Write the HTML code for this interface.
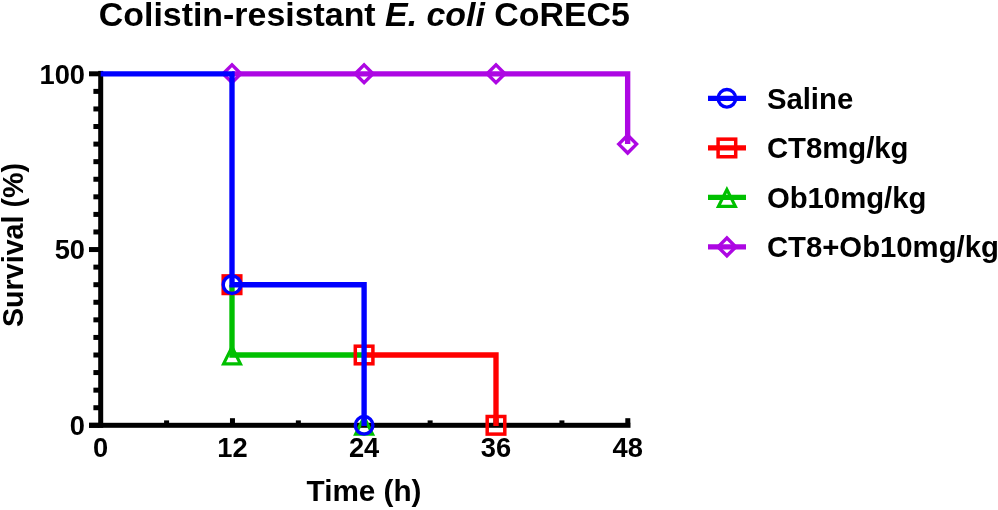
<!DOCTYPE html>
<html lang="en"><head><meta charset="utf-8"><title>Colistin-resistant E. coli CoREC5</title>
<style>
html,body{margin:0;padding:0;background:#fff;}
body{width:998px;height:510px;overflow:hidden;}
svg{display:block;}
text{font-family:"Liberation Sans",Arial,Helvetica,sans-serif;font-weight:bold;fill:#000;}
.t{font-size:33.9px;}
.ax{font-size:29.3px;}
.tk{font-size:27.3px;}
.lg{font-size:29.3px;}
</style></head><body>
<svg width="998" height="510" viewBox="0 0 998 510">
<rect width="998" height="510" fill="#fff"/>

<text class="t" x="98.8" y="26.4">Colistin-resistant <tspan font-style="italic">E. coli</tspan> CoREC5</text>
<g><rect x="98.2" y="70.9" width="5" height="356.9" fill="#000"/><rect x="89" y="422.8" width="541.5" height="5" fill="#000"/><rect x="89" y="422.80" width="10" height="5" fill="#000"/><rect x="93.4" y="405.23" width="6" height="5" fill="#000"/><rect x="93.4" y="387.65" width="6" height="5" fill="#000"/><rect x="93.4" y="370.07" width="6" height="5" fill="#000"/><rect x="93.4" y="352.50" width="6" height="5" fill="#000"/><rect x="93.4" y="334.93" width="6" height="5" fill="#000"/><rect x="93.4" y="317.35" width="6" height="5" fill="#000"/><rect x="93.4" y="299.77" width="6" height="5" fill="#000"/><rect x="93.4" y="282.20" width="6" height="5" fill="#000"/><rect x="93.4" y="264.62" width="6" height="5" fill="#000"/><rect x="89" y="247.05" width="10" height="5" fill="#000"/><rect x="93.4" y="229.47" width="6" height="5" fill="#000"/><rect x="93.4" y="211.90" width="6" height="5" fill="#000"/><rect x="93.4" y="194.33" width="6" height="5" fill="#000"/><rect x="93.4" y="176.75" width="6" height="5" fill="#000"/><rect x="93.4" y="159.18" width="6" height="5" fill="#000"/><rect x="93.4" y="141.60" width="6" height="5" fill="#000"/><rect x="93.4" y="124.02" width="6" height="5" fill="#000"/><rect x="93.4" y="106.45" width="6" height="5" fill="#000"/><rect x="93.4" y="88.88" width="6" height="5" fill="#000"/><rect x="89" y="71.30" width="10" height="5" fill="#000"/><rect x="164.09" y="420.4" width="5" height="3" fill="#000"/><rect x="229.97" y="418.2" width="5" height="5" fill="#000"/><rect x="295.86" y="420.4" width="5" height="3" fill="#000"/><rect x="361.75" y="418.2" width="5" height="5" fill="#000"/><rect x="427.64" y="420.4" width="5" height="3" fill="#000"/><rect x="493.52" y="418.2" width="5" height="5" fill="#000"/><rect x="559.41" y="420.4" width="5" height="3" fill="#000"/><rect x="625.30" y="418.2" width="5" height="5" fill="#000"/></g>
<text class="tk" x="85.0" y="435.0" text-anchor="end">0</text>
<text class="tk" x="85.0" y="259.2" text-anchor="end">50</text>
<text class="tk" x="85.0" y="83.5" text-anchor="end">100</text>
<text class="tk" x="100.6" y="457.2" text-anchor="middle">0</text>
<text class="tk" x="232.4" y="457.2" text-anchor="middle">12</text>
<text class="tk" x="364.1" y="457.2" text-anchor="middle">24</text>
<text class="tk" x="495.9" y="457.2" text-anchor="middle">36</text>
<text class="tk" x="627.7" y="457.2" text-anchor="middle">48</text>
<text x="364" y="501" font-size="29.7" text-anchor="middle">Time (h)</text>
<text font-size="28.7" transform="translate(23.2,245) rotate(-90)" text-anchor="middle">Survival (%)</text>
<g>
<path d="M232.0 73.8 L627.65 73.8 L627.65 144.1" fill="none" stroke="#AD07E3" stroke-width="5.35" stroke-linejoin="miter" stroke-linecap="butt"/>
<path d="M223.10 73.80 L232.00 64.90 L240.90 73.80 L232.00 82.70 Z" fill="none" stroke="#AD07E3" stroke-width="3.4" stroke-linejoin="miter"/>
<path d="M355.20 73.80 L364.10 64.90 L373.00 73.80 L364.10 82.70 Z" fill="none" stroke="#AD07E3" stroke-width="3.4" stroke-linejoin="miter"/>
<path d="M487.10 73.80 L496.00 64.90 L504.90 73.80 L496.00 82.70 Z" fill="none" stroke="#AD07E3" stroke-width="3.4" stroke-linejoin="miter"/>
<path d="M618.75 144.10 L627.65 135.20 L636.55 144.10 L627.65 153.00 Z" fill="none" stroke="#AD07E3" stroke-width="3.4" stroke-linejoin="miter"/>
<path d="M232.0 284.7 L232.0 355.0 L364.1 355.0" fill="none" stroke="#00C000" stroke-width="5.35" stroke-linejoin="miter" stroke-linecap="butt"/>
<path d="M223.57 363.85 L240.43 363.85 L232.00 347.08 Z" fill="none" stroke="#00C000" stroke-width="3.2" stroke-linejoin="miter" stroke-miterlimit="10"/>
<path d="M355.67 434.15 L372.53 434.15 L364.10 417.38 Z" fill="none" stroke="#00C000" stroke-width="3.2" stroke-linejoin="miter" stroke-miterlimit="10"/>
<path d="M364.1 355.0 L496.0 355.0 L496.0 425.90000000000003" fill="none" stroke="#FF0000" stroke-width="5.35" stroke-linejoin="miter" stroke-linecap="butt"/>
<rect x="223.20" y="275.90" width="17.6" height="17.6" fill="none" stroke="#FF0000" stroke-width="3.5"/>
<rect x="355.30" y="346.20" width="17.6" height="17.6" fill="none" stroke="#FF0000" stroke-width="3.5"/>
<rect x="487.20" y="416.50" width="17.6" height="17.6" fill="none" stroke="#FF0000" stroke-width="3.5"/>
<path d="M100.7 73.8 L232.0 73.8 L232.0 284.7 L364.1 284.7 L364.1 426.0" fill="none" stroke="#0000FF" stroke-width="5.35" stroke-linejoin="miter" stroke-linecap="butt"/>
<circle cx="232.0" cy="284.7" r="8.8" fill="none" stroke="#0000FF" stroke-width="3.4"/>
<circle cx="364.1" cy="425.3" r="8.8" fill="none" stroke="#0000FF" stroke-width="3.4"/>
</g>
<g>
<path d="M708 98.3 L746 98.3" stroke="#0000FF" stroke-width="5.2" fill="none"/>
<circle cx="726.9" cy="98.3" r="8.8" fill="none" stroke="#0000FF" stroke-width="3.4"/>
<text class="lg" x="766.9" y="108.6">Saline</text>
<path d="M708 147.95 L746 147.95" stroke="#FF0000" stroke-width="5.2" fill="none"/>
<rect x="718.10" y="139.15" width="17.6" height="17.6" fill="none" stroke="#FF0000" stroke-width="3.5"/>
<text class="lg" x="766.9" y="158.2">CT8mg/kg</text>
<path d="M708 197.45 L746 197.45" stroke="#00C000" stroke-width="5.2" fill="none"/>
<path d="M718.47 206.30 L735.33 206.30 L726.90 189.53 Z" fill="none" stroke="#00C000" stroke-width="3.2" stroke-linejoin="miter" stroke-miterlimit="10"/>
<text class="lg" x="766.9" y="207.7">Ob10mg/kg</text>
<path d="M708 246.9 L746 246.9" stroke="#AD07E3" stroke-width="5.2" fill="none"/>
<path d="M718.00 246.90 L726.90 238.00 L735.80 246.90 L726.90 255.80 Z" fill="none" stroke="#AD07E3" stroke-width="3.4" stroke-linejoin="miter"/>
<text class="lg" x="766.9" y="257.2">CT8+Ob10mg/kg</text>
</g>
</svg>
</body></html>
